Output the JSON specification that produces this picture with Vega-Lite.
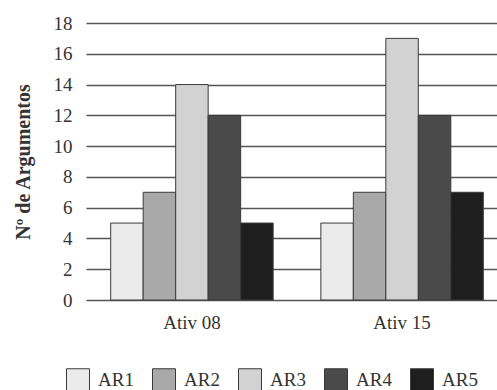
{
  "$schema": "https://vega.github.io/schema/vega-lite/v6.json",
  "width": 422,
  "height": 277,
  "autosize": {"type": "none"},
  "padding": {"left": 86, "top": 23, "right": 0, "bottom": 90},
  "background": "white",
  "config": {"view": {"stroke": null}, "font": "serif"},
  "data": {
    "values": [
      {"ativ": "Ativ 08", "ar": "AR1", "n": 5},
      {"ativ": "Ativ 08", "ar": "AR2", "n": 7},
      {"ativ": "Ativ 08", "ar": "AR3", "n": 14},
      {"ativ": "Ativ 08", "ar": "AR4", "n": 12},
      {"ativ": "Ativ 08", "ar": "AR5", "n": 5},
      {"ativ": "Ativ 15", "ar": "AR1", "n": 5},
      {"ativ": "Ativ 15", "ar": "AR2", "n": 7},
      {"ativ": "Ativ 15", "ar": "AR3", "n": 17},
      {"ativ": "Ativ 15", "ar": "AR4", "n": 12},
      {"ativ": "Ativ 15", "ar": "AR5", "n": 7}
    ]
  },
  "mark": {"type": "bar", "stroke": "#3a3a3a", "strokeWidth": 1},
  "encoding": {
    "x": {
      "field": "ativ",
      "type": "nominal",
      "scale": {"paddingInner": 0.227, "paddingOuter": 0.1175},
      "axis": {
        "title": null,
        "labelAngle": 0,
        "labelFont": "Times New Roman, Liberation Serif, serif",
        "labelFontSize": 19,
        "labelColor": "#333333",
        "labelPadding": 13,
        "domain": false,
        "ticks": false
      }
    },
    "xOffset": {
      "field": "ar",
      "type": "nominal",
      "scale": {"paddingInner": 0, "paddingOuter": 0}
    },
    "y": {
      "field": "n",
      "type": "quantitative",
      "scale": {"domain": [0, 18], "nice": false},
      "axis": {
        "title": "Nº de Argumentos",
        "values": [0, 2, 4, 6, 8, 10, 12, 14, 16, 18],
        "domain": false,
        "ticks": false,
        "labelPadding": 14,
        "labelFont": "Times New Roman, Liberation Serif, serif",
        "labelFontSize": 19,
        "labelColor": "#333333",
        "gridColor": "#555555",
        "gridWidth": 1.6,
        "titleFont": "Times New Roman, Liberation Serif, serif",
        "titleFontSize": 20,
        "titleFontWeight": "bold",
        "titleColor": "#333333",
        "titlePadding": 20
      }
    },
    "fill": {
      "field": "ar",
      "type": "nominal",
      "scale": {
        "domain": ["AR1", "AR2", "AR3", "AR4", "AR5"],
        "range": ["#ebebeb", "#a9a9a9", "#d2d2d2", "#4a4a4a", "#1e1e1e"]
      },
      "legend": {
        "title": null,
        "orient": "none",
        "direction": "horizontal",
        "legendX": -20,
        "legendY": 345,
        "symbolType": "square",
        "symbolSize": 529,
        "symbolStrokeColor": "#3a3a3a",
        "symbolStrokeWidth": 1,
        "labelFont": "Times New Roman, Liberation Serif, serif",
        "labelFontSize": 19,
        "labelColor": "#333333",
        "labelOffset": 8,
        "columnPadding": 16
      }
    }
  }
}
